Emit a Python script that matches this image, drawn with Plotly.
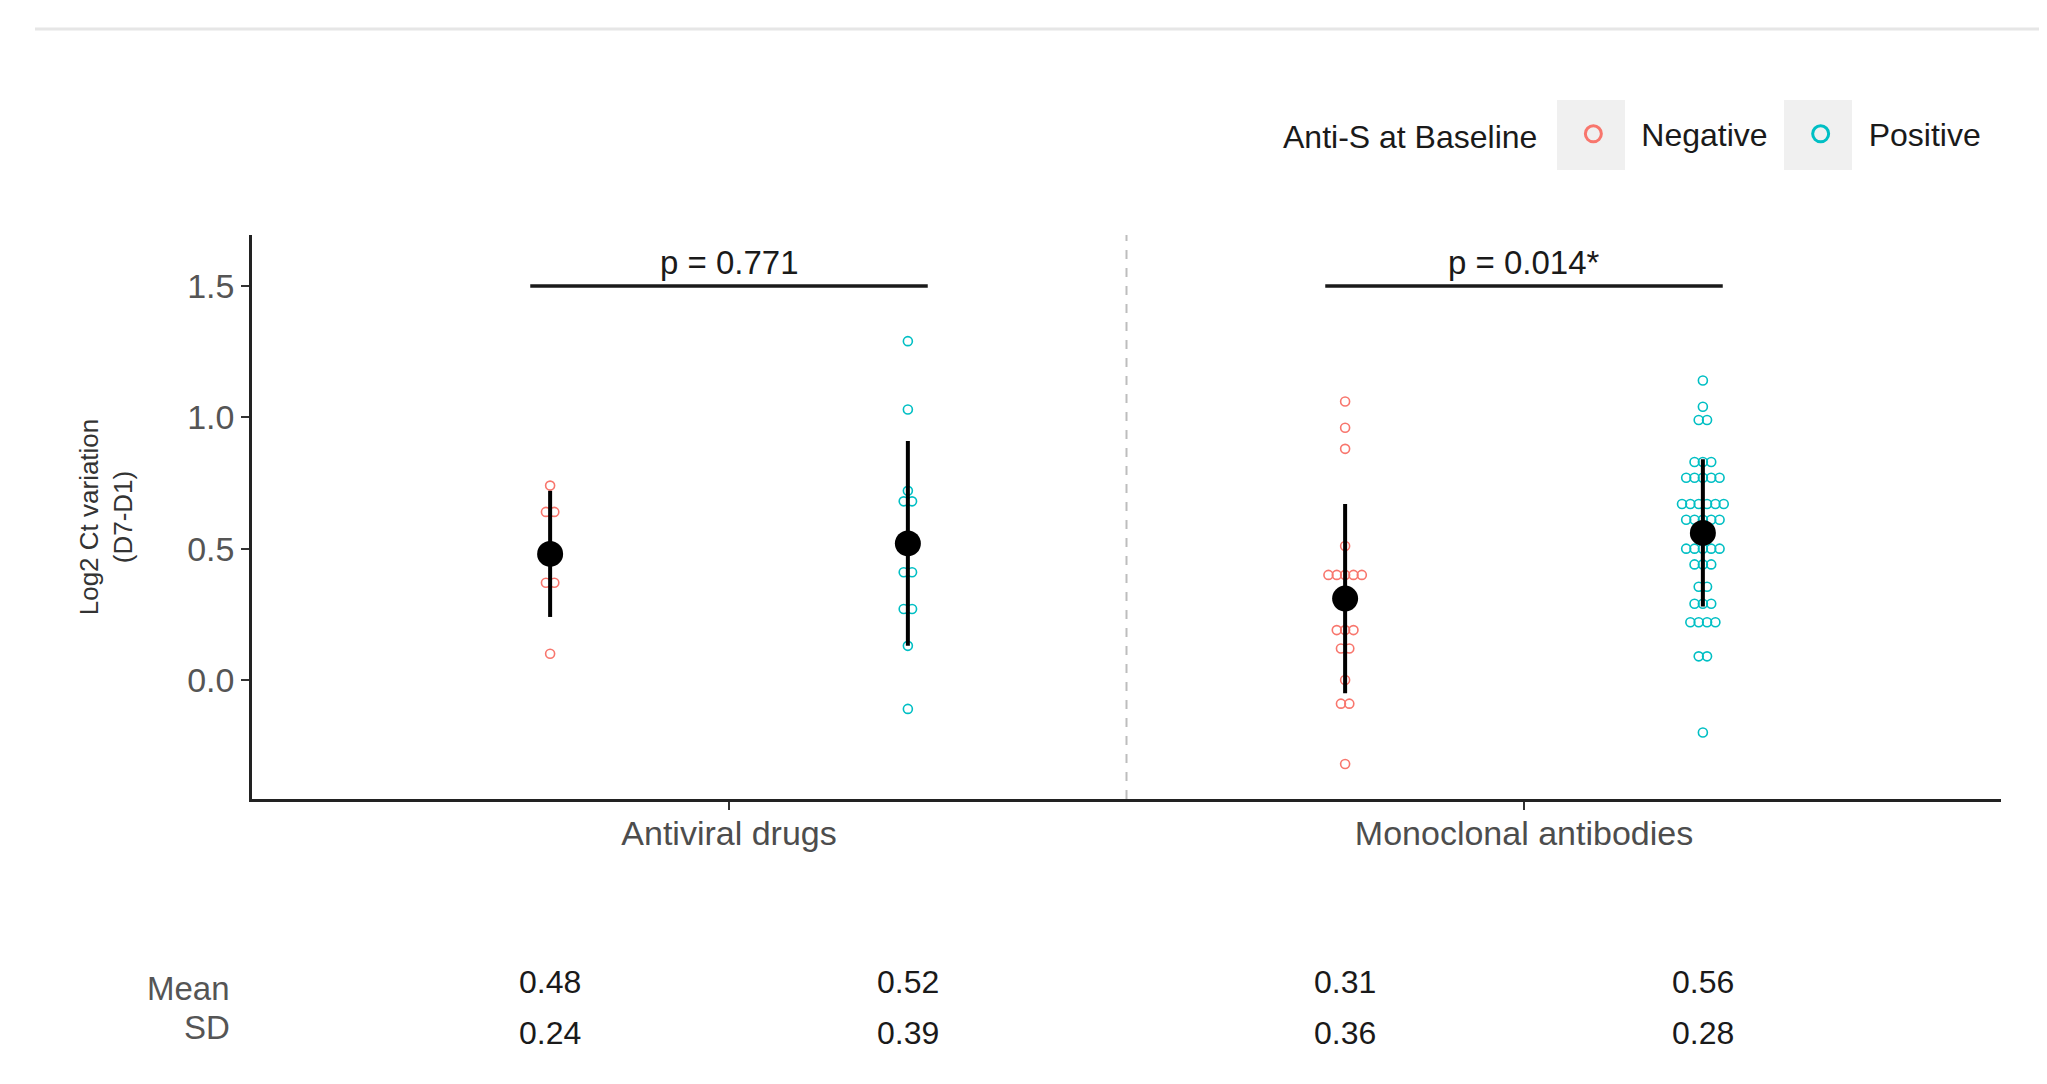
import plotly.graph_objects as go

# ---------------- data ----------------
categories = ["Antiviral drugs", "Monoclonal antibodies"]
groups = ["Negative", "Positive"]
colors = {"Negative": "#F8766D", "Positive": "#00BFC4"}

antiviral_negative = [0.74, 0.64, 0.64, 0.37, 0.37, 0.10]
antiviral_positive = [1.29, 1.03, 0.72, 0.68, 0.68, 0.41, 0.41, 0.27, 0.27, 0.13, -0.11]
mab_negative = [1.06, 0.96, 0.88, 0.51,
                0.40, 0.40, 0.40, 0.40, 0.40,
                0.19, 0.19, 0.19, 0.12, 0.12,
                0.00, -0.09, -0.09, -0.32]
mab_positive = [1.14, 1.04, 0.99, 0.99,
                0.83, 0.83, 0.83,
                0.77, 0.77, 0.77, 0.77, 0.77,
                0.67, 0.67, 0.67, 0.67, 0.67, 0.67,
                0.61, 0.61, 0.61, 0.61, 0.61,
                0.50, 0.50, 0.50, 0.50, 0.50,
                0.44, 0.44, 0.44,
                0.355, 0.355,
                0.29, 0.29, 0.29,
                0.22, 0.22, 0.22, 0.22,
                0.09, 0.09, -0.20]

means_negative = [0.48, 0.31]
means_positive = [0.52, 0.56]
sd_negative = [0.24, 0.36]
sd_positive = [0.39, 0.28]
p_labels = ["p = 0.771", "p = 0.014*"]
bracket_y = 1.5

values = {
    ("Antiviral drugs", "Negative"): antiviral_negative,
    ("Antiviral drugs", "Positive"): antiviral_positive,
    ("Monoclonal antibodies", "Negative"): mab_negative,
    ("Monoclonal antibodies", "Positive"): mab_positive,
}
means = {"Negative": means_negative, "Positive": means_positive}
sds = {"Negative": sd_negative, "Positive": sd_positive}

# ---------------- layout helpers ----------------
cat_pos = {c: i + 1 for i, c in enumerate(categories)}
dodge = {"Negative": -0.225, "Positive": 0.225}
dot_step = 0.0105

def dotplot_x(center, vals):
    counts = {}
    for v in vals:
        counts[v] = counts.get(v, 0) + 1
    seen = {}
    xs = []
    for v in vals:
        n = counts[v]
        k = seen.get(v, 0)
        seen[v] = k + 1
        xs.append(center + (k - (n - 1) / 2) * dot_step)
    return xs

OFF = 8  # page body margin
W, H = 2031, 1068
ml, mt = 244, 227
pw, ph = 1749, 564
mr = W - ml - pw
mb = H - mt - ph

def px_x(p):
    return (p - OFF - ml) / pw

def px_y(p):
    return (H - mb - (p - OFF)) / ph

fig = go.Figure()

# raw points
for g in groups:
    xs, ys = [], []
    for c in categories:
        v = values[(c, g)]
        xs += dotplot_x(cat_pos[c] + dodge[g], v)
        ys += v
    fig.add_trace(go.Scatter(
        x=xs, y=ys, mode="markers", name=g, legendgroup=g, showlegend=False,
        marker=dict(symbol="circle-open", size=9, color=colors[g],
                    line=dict(width=1.6, color=colors[g])),
    ))

# legend keys (larger open circles, as in the reference legend)
for g in groups:
    fig.add_trace(go.Scatter(
        x=[None], y=[None], mode="markers", name=g, legendgroup=g,
        marker=dict(symbol="circle-open", size=20, color=colors[g],
                    line=dict(width=3, color=colors[g])),
    ))

# mean +/- SD
for g in groups:
    fig.add_trace(go.Scatter(
        x=[cat_pos[c] + dodge[g] for c in categories], y=means[g],
        mode="markers", showlegend=False, legendgroup=g,
        marker=dict(size=26, color="black"),
        error_y=dict(type="data", array=sds[g], visible=True,
                     thickness=4, width=0, color="black"),
    ))

shapes = []
annotations = []

# separator between treatment groups
sep_x = sum(cat_pos.values()) / len(cat_pos)
shapes.append(dict(type="line", xref="x", yref="paper", x0=sep_x, x1=sep_x,
                   y0=0, y1=1, line=dict(color="#BDBDBD", width=2, dash="dash")))

# p-value brackets
for c, lab in zip(categories, p_labels):
    x0 = cat_pos[c] - 0.25
    x1 = cat_pos[c] + 0.25
    shapes.append(dict(type="line", xref="x", yref="y", x0=x0, x1=x1,
                       y0=bracket_y, y1=bracket_y,
                       line=dict(color="#1a1a1a", width=3.5)))
    annotations.append(dict(x=cat_pos[c], y=bracket_y, xref="x", yref="y",
                            text=lab, showarrow=False, yanchor="bottom",
                            yshift=3,
                            font=dict(size=33, color="#1a1a1a")))

# faint top rule
shapes.append(dict(type="line", xref="paper", yref="paper",
                   x0=px_x(35), x1=px_x(2047), y0=px_y(29), y1=px_y(29),
                   line=dict(color="#E6E6E6", width=3)))

# legend key backgrounds
for (a, b) in [(1557, 1625), (1784, 1852)]:
    shapes.append(dict(type="rect", xref="paper", yref="paper",
                       x0=px_x(a), x1=px_x(b), y0=px_y(170), y1=px_y(100),
                       fillcolor="#F0F0F0", line=dict(width=0), layer="below"))

# summary table
annotations.append(dict(x=px_x(232), y=px_y(988), xref="paper", yref="paper",
                        text="Mean", showarrow=False, xanchor="right",
                        yanchor="middle",
                        font=dict(size=33, color="#555555")))
annotations.append(dict(x=px_x(232), y=px_y(1027), xref="paper", yref="paper",
                        text="SD", showarrow=False, xanchor="right",
                        yanchor="middle",
                        font=dict(size=33, color="#555555")))
for g in groups:
    for i, c in enumerate(categories):
        xx = cat_pos[c] + dodge[g]
        annotations.append(dict(x=xx, y=px_y(982), xref="x", yref="paper",
                                text=f"{means[g][i]:.2f}", showarrow=False,
                                xanchor="center", yanchor="middle",
                                font=dict(size=32, color="#1a1a1a")))
        annotations.append(dict(x=xx, y=px_y(1033), xref="x", yref="paper",
                                text=f"{sds[g][i]:.2f}", showarrow=False,
                                xanchor="center", yanchor="middle",
                                font=dict(size=32, color="#1a1a1a")))

fig.update_layout(
    width=W, height=H,
    margin=dict(l=ml, r=mr, t=mt, b=mb),
    paper_bgcolor="white", plot_bgcolor="white",
    font=dict(family="Liberation Sans, Arial, sans-serif", color="#1a1a1a"),
    shapes=shapes, annotations=annotations,
    legend=dict(orientation="h", x=px_x(1281), xanchor="left",
                y=px_y(134), yanchor="middle", itemwidth=86,
                bgcolor="rgba(0,0,0,0)",
                title=dict(text="Anti-S at Baseline", font=dict(size=32)),
                font=dict(size=32), itemsizing="trace"),
    xaxis=dict(range=[0.4, 2.6], tickvals=[cat_pos[c] for c in categories],
               ticktext=categories, showgrid=False, zeroline=False,
               showline=True, linecolor="#222222", linewidth=2.5,
               ticks="outside", ticklen=8, tickwidth=2, tickcolor="#333333",
               ticklabelstandoff=-6,
               tickfont=dict(size=34, color="#4D4D4D")),
    yaxis=dict(range=[-0.453, 1.694], tickvals=[0, 0.5, 1.0, 1.5],
               tickformat=".1f", showgrid=False, zeroline=False,
               showline=True, linecolor="#222222", linewidth=2.5,
               ticks="outside", ticklen=8, tickwidth=2, tickcolor="#333333",
               tickfont=dict(size=34, color="#555555"),
               title=dict(text="Log2 Ct variation<br>(D7-D1)",
                          font=dict(size=26, color="#333333"), standoff=48)),
)

fig.write_html("out.html")
